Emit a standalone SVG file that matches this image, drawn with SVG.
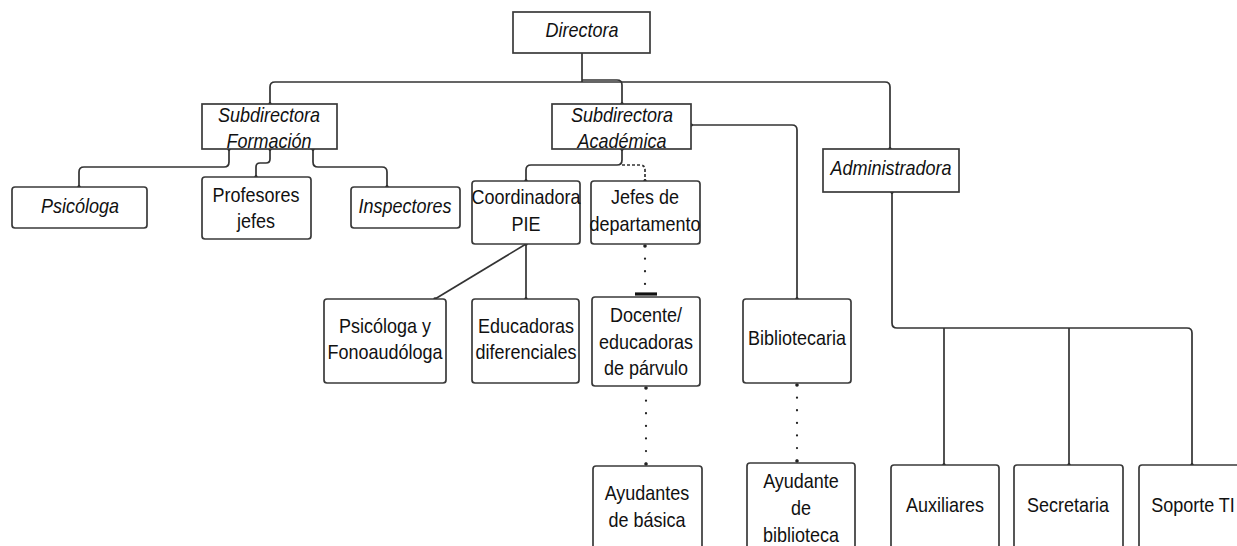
<svg xmlns="http://www.w3.org/2000/svg" width="1237" height="546" viewBox="0 0 1237 546">
<style>
.box{fill:#fff;stroke:#3a3a3a;stroke-width:1.7}
.c{fill:none;stroke:#333;stroke-width:1.7}
.d{fill:none;stroke:#222;stroke-width:2.2;stroke-dasharray:0.1 12.5;stroke-linecap:round}
text{font-family:"Liberation Sans",Arial,sans-serif;font-size:18px;fill:#111;text-anchor:middle}
.i{font-style:italic}
</style>
<defs>
<marker id="dot" markerWidth="6" markerHeight="6" refX="3" refY="3" markerUnits="userSpaceOnUse"><circle cx="3" cy="3" r="1.8" fill="#222"/></marker>
</defs>
<rect width="1237" height="546" fill="#fff"/>
<g id="connectors">
<path class="c" d="M582,53 V82"/>
<path class="c" d="M582,80 H617 Q622,80 622,85 V104" marker-end="url(#dot)"/>
<path class="c" d="M270,104 V87 Q270,82 275,82 H885 Q890,82 890,87 V149" marker-start="url(#dot)" marker-end="url(#dot)"/>
<path class="c" d="M229,149 V162 Q229,167 224,167 H84 Q79,167 79,172 V187" marker-start="url(#dot)" marker-end="url(#dot)"/>
<path class="c" d="M270,149 V159 Q270,163 266,163 H260 Q256,163 256,167 V177" marker-start="url(#dot)" marker-end="url(#dot)"/>
<path class="c" d="M313,149 V162 Q313,167 318,167 H382 Q387,167 387,172 V187" marker-start="url(#dot)" marker-end="url(#dot)"/>
<path class="c" d="M691,125 H792 Q797,125 797,130 V299" marker-start="url(#dot)" marker-end="url(#dot)"/>
<path class="c" d="M622,149 V160 Q622,165 617,165 H531 Q526,165 526,170 V181" marker-start="url(#dot)" marker-end="url(#dot)"/>
<path class="c" d="M622,165 H640 Q645,165 645,170 V181" stroke-dasharray="3 2" marker-end="url(#dot)"/>
<path class="c" d="M526,244 L435,299" marker-start="url(#dot)" marker-end="url(#dot)"/>
<path class="c" d="M526,244 V299" marker-end="url(#dot)"/>
<path class="d" d="M645,246 V292"/>
<circle cx="645" cy="246" r="1.8" fill="#222"/>
<path d="M635,294 H657" stroke="#111" stroke-width="3.2" fill="none"/>
<path class="d" d="M646,388 V464"/>
<circle cx="646" cy="388" r="1.8" fill="#222"/>
<circle cx="646" cy="464" r="1.8" fill="#222"/>
<path class="d" d="M797,385 V461"/>
<circle cx="797" cy="385" r="1.8" fill="#222"/>
<circle cx="797" cy="461" r="1.8" fill="#222"/>
<path class="c" d="M892,192 V323 Q892,328 897,328 H1187 Q1192,328 1192,333 V465" marker-start="url(#dot)" marker-end="url(#dot)"/>
<path class="c" d="M944,328 V465" marker-end="url(#dot)"/>
<path class="c" d="M1069,328 V465" marker-end="url(#dot)"/>
</g>
<g id="directora"><rect class="box" x="513" y="12" width="137" height="41"/><text class="i" transform="translate(582,37) scale(1,1.15)">Directora</text></g>
<g id="subdirectora-formacion"><rect class="box" x="202" y="104" width="135" height="45"/><text class="i" transform="translate(269,122) scale(1,1.15)">Subdirectora</text><text class="i" transform="translate(269,148) scale(1,1.15)">Formación</text></g>
<g id="subdirectora-academica"><rect class="box" x="552" y="104" width="139" height="45"/><text class="i" transform="translate(622,122) scale(1,1.15)">Subdirectora</text><text class="i" transform="translate(622,148) scale(1,1.15)">Académica</text></g>
<g id="administradora"><rect class="box" x="823" y="149" width="136" height="43"/><text class="i" transform="translate(891,175) scale(1,1.15)">Administradora</text></g>
<g id="psicologa"><rect class="box" x="12" y="187" width="135" height="41" rx="3"/><text class="i" transform="translate(80,213) scale(1,1.15)">Psicóloga</text></g>
<g id="profesores-jefes"><rect class="box" x="202" y="177" width="109" height="62" rx="3"/><text transform="translate(256,202) scale(1,1.15)">Profesores</text><text transform="translate(256,228) scale(1,1.15)">jefes</text></g>
<g id="inspectores"><rect class="box" x="351" y="187" width="109" height="41" rx="3"/><text class="i" transform="translate(405,213) scale(1,1.15)">Inspectores</text></g>
<g id="coordinadora-pie"><rect class="box" x="472" y="181" width="108" height="63" rx="3"/><text transform="translate(526,204) scale(1,1.15)">Coordinadora</text><text transform="translate(526,231) scale(1,1.15)">PIE</text></g>
<g id="jefes-departamento"><rect class="box" x="591" y="181" width="109" height="63" rx="3"/><text transform="translate(645,204) scale(1,1.15)">Jefes de</text><text transform="translate(645,231) scale(1,1.15)">departamento</text></g>
<g id="psicologa-fono"><rect class="box" x="324" y="299" width="122" height="84" rx="3"/><text transform="translate(385,333) scale(1,1.15)">Psicóloga y</text><text transform="translate(385,359) scale(1,1.15)">Fonoaudóloga</text></g>
<g id="educadoras-diferenciales"><rect class="box" x="472" y="299" width="107" height="84" rx="3"/><text transform="translate(526,333) scale(1,1.15)">Educadoras</text><text transform="translate(526,359) scale(1,1.15)">diferenciales</text></g>
<g id="docente"><rect class="box" x="592" y="297" width="108" height="89" rx="3"/><text transform="translate(646,322) scale(1,1.15)">Docente/</text><text transform="translate(646,349) scale(1,1.15)">educadoras</text><text transform="translate(646,375) scale(1,1.15)">de párvulo</text></g>
<g id="bibliotecaria"><rect class="box" x="743" y="299" width="108" height="84" rx="3"/><text transform="translate(797,345) scale(1,1.15)">Bibliotecaria</text></g>
<g id="ayudantes-basica"><rect class="box" x="593" y="466" width="109" height="95" rx="3"/><text transform="translate(647,500) scale(1,1.15)">Ayudantes</text><text transform="translate(647,527) scale(1,1.15)">de básica</text></g>
<g id="ayudante-biblioteca"><rect class="box" x="747" y="463" width="108" height="98" rx="3"/><text transform="translate(801,488) scale(1,1.15)">Ayudante</text><text transform="translate(801,515) scale(1,1.15)">de</text><text transform="translate(801,542) scale(1,1.15)">biblioteca</text></g>
<g id="auxiliares"><rect class="box" x="891" y="465" width="108" height="96" rx="3"/><text transform="translate(945,512) scale(1,1.15)">Auxiliares</text></g>
<g id="secretaria"><rect class="box" x="1014" y="465" width="109" height="96" rx="3"/><text transform="translate(1068,512) scale(1,1.15)">Secretaria</text></g>
<g id="soporte-ti"><rect class="box" x="1139" y="465" width="110" height="96" rx="3"/><text transform="translate(1193,512) scale(1,1.15)">Soporte TI</text></g>
</svg>
